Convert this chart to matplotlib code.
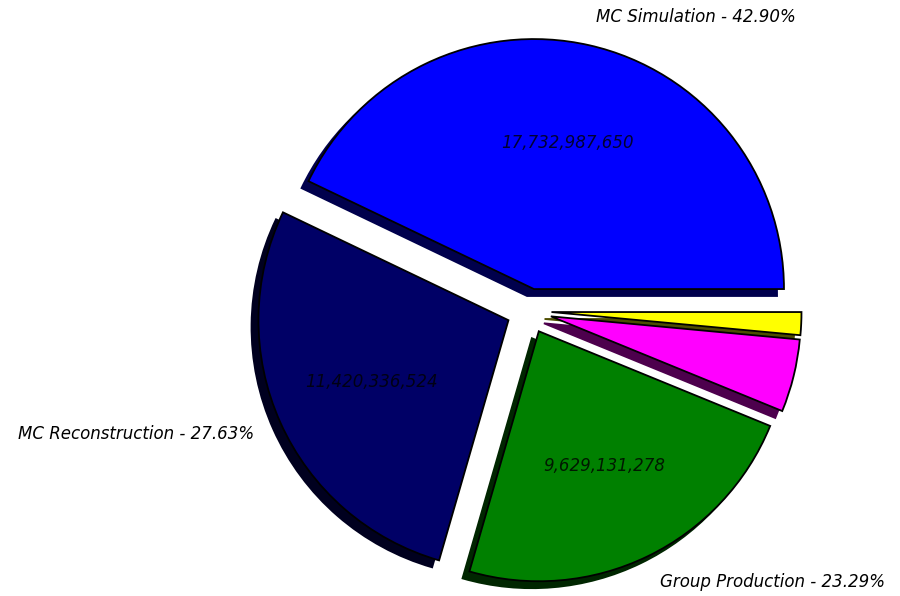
import matplotlib
matplotlib.use("Agg")
import matplotlib.pyplot as plt

categories = ["MC Simulation", "MC Reconstruction", "Group Production", "Other A", "Other B"]
values = [17732987650, 11420336524, 9629131278, 1945000000, 610500000]
colors = ["#0000ff", "#000066", "#008000", "#ff00ff", "#ffff00"]
explode = [0.09, 0.09, 0.09, 0.09, 0.09]

total = sum(values)
pcts = [v / total * 100 for v in values]
labels = [f"{c} - {p:.2f}%" if p > 10 else "" for c, p in zip(categories, pcts)]

_idx = [0]


def autopct(p):
    i = _idx[0]
    _idx[0] += 1
    if pcts[i] < 10:
        return ""
    return f"{values[i]:,}"


fig = plt.figure(figsize=(9, 5.96), dpi=100)
ax = fig.add_axes([0, 0, 1, 1])
wedges, texts, autotexts = ax.pie(
    values, labels=labels, colors=colors, explode=explode, autopct=autopct,
    startangle=0, counterclock=True, shadow=dict(alpha=1.0), labeldistance=1.115,
    pctdistance=0.6,
    wedgeprops=dict(edgecolor="black", linewidth=1.3),
    textprops=dict(fontsize=12, style="italic", color="black"),
)
for t in autotexts:
    t.set_alpha(0.8)

r = 250.0
cx, cy = 529.0, 311.0
ax.set_aspect("auto")
ax.set_xlim(-cx / r, (900 - cx) / r)
ax.set_ylim(-(596 - cy) / r, cy / r)
ax.axis("off")

fig.savefig("out.png", dpi=100)
